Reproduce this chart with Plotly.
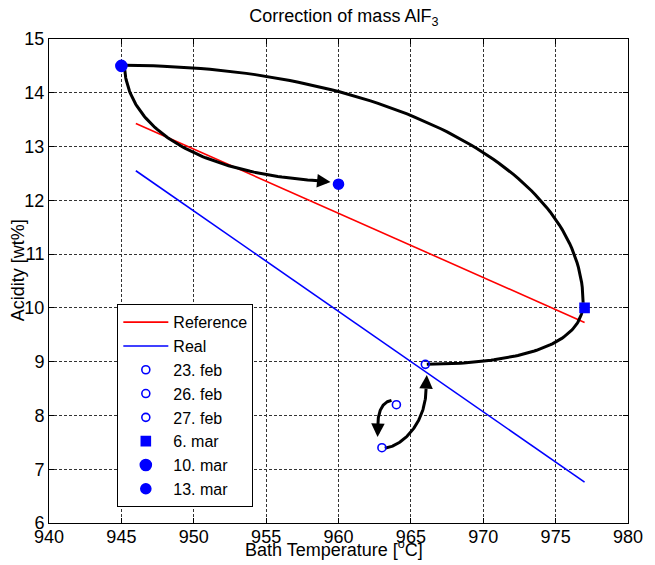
import numpy as np
import plotly.graph_objects as go

# Fitted operating lines: acidity vs bath temperature
line_temp = [946, 977]
reference_acidity = [13.43, 9.73]
real_acidity = [12.55, 6.76]

# Measured points (bath temperature [°C], acidity [wt%])
dates = ["23. feb", "26. feb", "27. feb", "6. mar", "10. mar", "13. mar"]
meas_temp = [964, 963, 966, 977, 945, 960]
meas_acidity = [8.2, 7.4, 8.95, 10.0, 14.5, 12.3]
meas_symbol = ["circle-open", "circle-open", "circle-open", "square", "circle", "circle"]
meas_size = [8, 8, 8, 9, 11, 10]

# Trajectory between measurements as cubic Bezier segments:
# each entry is four (temperature, acidity) control points
trajectory_segments = [
    [(966.1, 8.95), (972.5, 8.97), (976.9, 9.3), (976.9, 10.1)],
    [(976.9, 10.1), (976.9, 12.6), (963.0, 14.51), (945.2, 14.51)],
    [(945.2, 14.51), (945.4, 13.3), (950.5, 12.5), (958.8, 12.36)],
    [(963.66, 8.28), (962.9, 8.25), (962.7, 8.0), (962.72, 7.8)],
    [(963.2, 7.39), (964.6, 7.45), (966.05, 7.9), (966.05, 8.5)],
]

# Arrow heads: (tail temp, tail acid, tip temp, tip acid)
arrow_tips = [
    (958.5, 12.365, 959.45, 12.34),
    (962.72, 7.8, 962.7, 7.6),
    (966.05, 8.5, 966.1, 8.75),
]

FONT = "Liberation Sans, Arial, sans-serif"


def bezier(ctrl, n=80):
    """Sample a cubic Bezier curve given its four control points."""
    P = np.asarray(ctrl, dtype=float)
    t = np.linspace(0, 1, n)[:, None]
    C = ((1 - t) ** 3 * P[0] + 3 * (1 - t) ** 2 * t * P[1]
         + 3 * (1 - t) * t ** 2 * P[2] + t ** 3 * P[3])
    return C[:, 0], C[:, 1]


fig = go.Figure()

fig.add_trace(go.Scatter(x=line_temp, y=reference_acidity, mode="lines",
                         name="Reference", line=dict(color="#ff0000", width=1.6)))
fig.add_trace(go.Scatter(x=line_temp, y=real_acidity, mode="lines",
                         name="Real", line=dict(color="#0000ff", width=1.6)))

for seg in trajectory_segments:
    cx, cy = bezier(seg)
    fig.add_trace(go.Scatter(x=cx, y=cy, mode="lines", showlegend=False,
                             hoverinfo="skip", line=dict(color="black", width=3)))

for d, t, a, s, sz in zip(dates, meas_temp, meas_acidity, meas_symbol, meas_size):
    fig.add_trace(go.Scatter(x=[t], y=[a], mode="markers", name=d,
                             marker=dict(symbol=s, size=sz, color="#0000ff",
                                         line=dict(color="#0000ff", width=1.6))))

for tx, ty, hx, hy in arrow_tips:
    fig.add_annotation(x=hx, y=hy, ax=tx, ay=ty, xref="x", yref="y", axref="x", ayref="y",
                       text="", showarrow=True, arrowhead=2, arrowsize=0.9,
                       arrowwidth=3, arrowcolor="black", standoff=0, startstandoff=0)

fig.add_annotation(text="Bath Temperature [<sup>o</sup>C]", xref="paper", yref="paper",
                   x=0.493, y=0, yshift=-25, xanchor="center", yanchor="middle",
                   showarrow=False, font=dict(family=FONT, size=18, color="black"))
fig.add_annotation(text="Acidity [wt%]", xref="paper", yref="paper", textangle=-90,
                   x=-0.053, y=0.523, xanchor="center", yanchor="middle",
                   showarrow=False, font=dict(family=FONT, size=18, color="black"))

axis_common = dict(showline=True, linecolor="black", linewidth=1, mirror="ticks",
                   ticks="inside", ticklen=5, tickcolor="black",
                   showgrid=True, gridcolor="#333333", gridwidth=1, griddash="3px,2px",
                   zeroline=False, tickfont=dict(family=FONT, size=18, color="black"))

fig.update_xaxes(range=[940, 980], tickmode="linear", tick0=940, dtick=5,
                 ticklabelstandoff=-3, **axis_common)
fig.update_yaxes(range=[6, 15], tickmode="linear", tick0=6, dtick=1, **axis_common)

fig.update_layout(
    width=655, height=565,
    margin=dict(l=49, r=17, t=39, b=42),
    paper_bgcolor="white", plot_bgcolor="white",
    title=dict(text="Correction of mass AlF<sub>3</sub>", x=0.525, xanchor="center",
               y=1 - 16 / 565, yanchor="middle", yref="container",
               font=dict(family=FONT, size=18, color="black")),
    font=dict(family=FONT, size=18, color="black"),
    legend=dict(x=0.118, y=0.452, xanchor="left", yanchor="top",
                bgcolor="white", bordercolor="black", borderwidth=1,
                font=dict(family=FONT, size=16, color="black"),
                itemwidth=45, tracegroupgap=0),
    showlegend=True,
)

fig.write_html("out.html")
